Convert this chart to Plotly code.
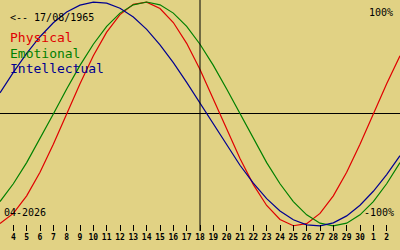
import plotly.graph_objects as go

# Days shown (April 3 .. May 3, 2026), day-of-sequence index
days = list(range(3, 34))
tick_days = list(range(4, 33))
tick_labels = ["4", "5", "6", "7", "8", "9", "10", "11", "12", "13", "14", "15", "16", "17",
               "18", "19", "20", "21", "22", "23", "24", "25", "26", "27", "28", "29", "30", "1", "2"]
today = 18

physical = [-0.979, -0.888, -0.731, -0.520, -0.270, 0.000, 0.270, 0.520, 0.731, 0.888, 0.979,
            0.998, 0.942, 0.817, 0.631, 0.398, 0.136, -0.136, -0.398, -0.631, -0.817, -0.942,
            -0.998, -0.979, -0.888, -0.731, -0.520, -0.270, 0.000, 0.270, 0.520]
emotional = [-0.782, -0.623, -0.434, -0.223, 0.000, 0.223, 0.434, 0.623, 0.782, 0.901, 0.975,
             1.000, 0.975, 0.901, 0.782, 0.623, 0.434, 0.223, 0.000, -0.223, -0.434, -0.623,
             -0.782, -0.901, -0.975, -1.000, -0.975, -0.901, -0.782, -0.623, -0.434]
intellectual = [0.189, 0.372, 0.541, 0.690, 0.815, 0.910, 0.972, 0.999, 0.990, 0.945, 0.866,
                0.756, 0.618, 0.458, 0.282, 0.095, -0.095, -0.282, -0.458, -0.618, -0.756, -0.866,
                -0.945, -0.990, -0.999, -0.972, -0.910, -0.815, -0.690, -0.541, -0.372]

BG = "#E1D284"
RED = "#E00000"
GREEN = "#008000"
BLUE = "#000090"
MONO = "DejaVu Sans Mono"

fig = go.Figure()
for vals, col in [(physical, RED), (emotional, GREEN), (intellectual, BLUE)]:
    fig.add_trace(go.Scatter(x=days, y=vals, mode="lines",
                             line=dict(color=col, width=1.2), hoverinfo="skip"))

fig.add_vline(x=today, line=dict(color="black", width=1))

fig.update_layout(
    width=400, height=250,
    margin=dict(l=0, r=0, t=0, b=19),
    paper_bgcolor=BG, plot_bgcolor=BG,
    showlegend=False,
    xaxis=dict(range=[3, 33], tickvals=tick_days, ticktext=tick_labels,
               ticks="inside", ticklen=6, tickwidth=1, tickcolor="black",
               showgrid=False, zeroline=False, showline=False,
               tickfont=dict(family=MONO, size=8, color="black", weight="bold")),
    yaxis=dict(range=[-1.045, 1.018], showticklabels=False, ticks="",
               showgrid=False, zeroline=True, zerolinecolor="black", zerolinewidth=1),
)

H = 231.0
def py(pix):
    return 1 - pix / H

ann = [
    ("<-- 17/08/1965", 8, 17, "left", 10, "black"),
    ("Physical", 8, 38, "left", 13, RED),
    ("Emotional", 8, 53, "left", 13, GREEN),
    ("Intellectual", 8, 68, "left", 13, BLUE),
    ("100%", 395, 12, "right", 10, "black"),
    ("04-2026", 2, 212, "left", 10, "black"),
    ("-100%", 396, 212, "right", 10, "black"),
]
for txt, xp, yp, anc, sz, col in ann:
    fig.add_annotation(text=txt, xref="paper", yref="paper", x=xp / 400, y=py(yp),
                       xanchor=anc, yanchor="middle", showarrow=False,
                       font=dict(family=MONO, size=sz, color=col))

fig.write_html("out.html")
